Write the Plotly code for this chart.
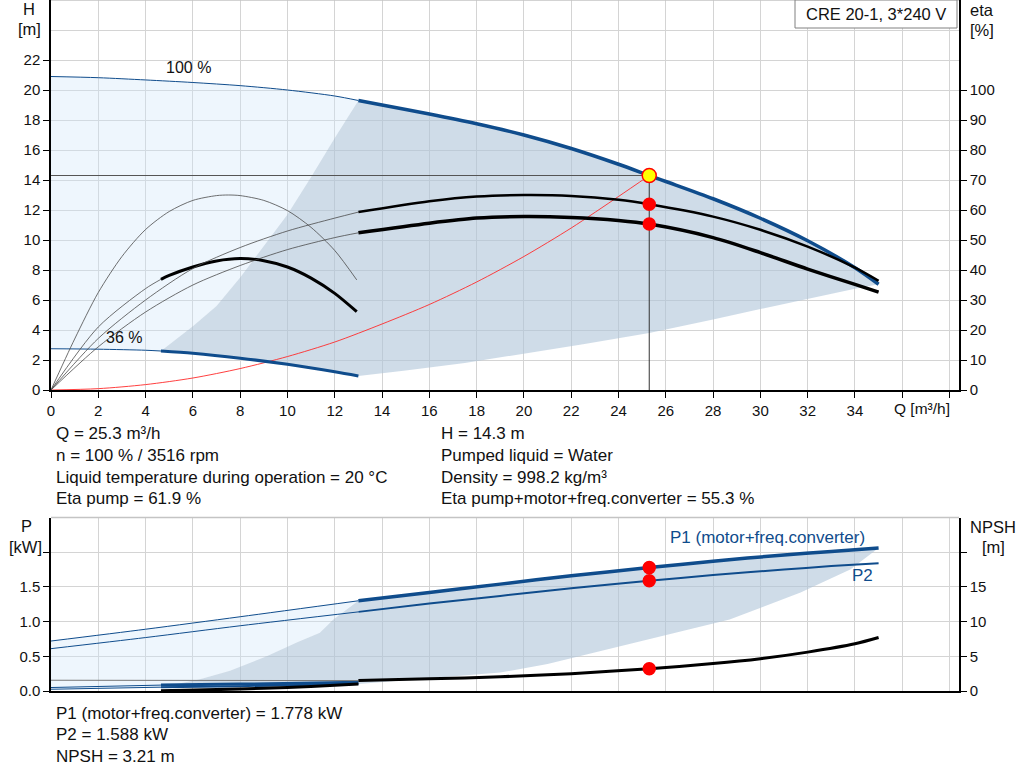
import plotly.graph_objects as go

# ---- pump curve data ----
# head, 100 % speed
q_h100_thin = [0, 2, 4, 6, 8, 10, 12, 13]
h100_thin = [20.9, 20.82, 20.67, 20.5, 20.29, 20.0, 19.6, 19.3]
q_h100 = [13, 14, 16, 18, 20, 22, 24, 25.3, 26, 28, 30, 32, 34, 35]
h100 = [19.3, 19.0, 18.4, 17.75, 17.0, 16.1, 15.05, 14.3, 13.9, 12.75, 11.45, 9.95, 8.15, 7.05]

# head, 36 % speed
q_h36_thin = [0, 2, 4, 4.65]
h36_thin = [2.75, 2.72, 2.65, 2.6]
q_h36 = [4.65, 6, 8, 10, 12, 13]
h36 = [2.6, 2.45, 2.12, 1.71, 1.21, 0.93]

# edges of the operating area
q_area_left = [4.65, 6, 7, 8, 9, 10, 11, 12, 13]
h_area_left = [2.6, 4.25, 5.6, 7.5, 9.6, 11.7, 14.2, 16.8, 19.3]
q_area_low = [13, 15, 17.5, 20, 22.5, 25.3, 28, 30, 32, 34, 35]
h_area_low = [0.93, 1.3, 1.8, 2.4, 3.05, 3.8, 4.7, 5.4, 6.1, 6.75, 7.05]

# system curve
q_sys = [0, 2, 4, 6, 8, 10, 12, 14, 16, 18, 20, 22, 24, 25.3]
h_sys = [0, 0.09, 0.36, 0.8, 1.43, 2.23, 3.2, 4.4, 5.7, 7.2, 8.9, 10.8, 12.9, 14.3]

# efficiencies, 100 % speed
q_eta_thin = [0, 2, 4, 6, 8, 10, 12, 13]
eta_pump_thin = [0, 17.2, 30, 40.5, 47.5, 53, 57.3, 59.3]
eta_tot_thin = [0, 14.4, 26, 35, 41.5, 46.8, 50.8, 52.4]
q_eta = [13, 16, 18, 20, 22, 24, 25.3, 28, 30, 32, 34, 35]
eta_pump = [59.3, 62.9, 64.5, 65, 64.7, 63.4, 61.9, 57.8, 53.4, 47.8, 40.8, 36.4]
eta_tot = [52.4, 55.6, 57.3, 57.8, 57.5, 56.5, 55.3, 50.8, 45.8, 40.3, 35.2, 32.6]

# efficiencies, 36 % speed
q_eta36_pump = [0, 1, 2, 3, 4, 5, 6, 7, 7.5, 8, 9, 10, 11, 12, 12.93]
eta36_pump = [0, 17, 32.5, 44.5, 53.5, 59.5, 63.2, 64.8, 65, 64.8, 63.2, 59.8, 54.2, 46.5, 36.7]
q_eta36_tot_thin = [0, 2, 4, 4.65]
eta36_tot_thin = [0, 21, 33.8, 36.9]
q_eta36_tot = [4.65, 5, 6, 7, 8, 9, 10, 11, 12, 12.93]
eta36_tot = [36.9, 38.2, 41.0, 43.0, 43.8, 43.1, 41.0, 37.3, 32.2, 26.1]

# power, 100 % speed
q_p_thin = [0, 4, 8, 13]
p1_thin = [0.72, 0.89, 1.07, 1.30]
p2_thin = [0.61, 0.77, 0.94, 1.14]
q_p = [13, 16, 19, 22, 25.3, 28, 31, 33, 35]
p1 = [1.30, 1.42, 1.54, 1.66, 1.778, 1.87, 1.96, 2.01, 2.06]
p2 = [1.14, 1.26, 1.37, 1.48, 1.588, 1.67, 1.75, 1.80, 1.84]

# power, 36 % speed
q_p36_thin = [0, 4.65]
p1_36_thin = [0.05, 0.085]
p2_36_thin = [0.025, 0.055]
q_p36 = [4.65, 8, 10.5, 13]
p1_36 = [0.085, 0.10, 0.11, 0.125]
p2_36 = [0.055, 0.07, 0.085, 0.10]

# power area edges
q_parea_left = [4.65, 6.3, 7.57, 9.12, 10.39, 11.37, 11.94, 13]
p_parea_left = [0.055, 0.17, 0.29, 0.50, 0.70, 0.84, 1.03, 1.30]
q_parea_low = [13, 16, 19, 21, 23, 25.3, 28.7, 31.7, 33.8, 35]
p_parea_low = [0.10, 0.18, 0.265, 0.39, 0.55, 0.75, 1.03, 1.42, 1.75, 2.06]

# NPSH
q_npsh_thin = [0, 13]
npsh_thin = [1.55, 1.5]
q_npsh = [13, 16, 19, 22, 25.3, 28, 30, 32, 34, 35]
npsh = [1.5, 1.75, 2.05, 2.5, 3.21, 3.95, 4.65, 5.6, 6.8, 7.7]
q_npsh36 = [4.65, 7, 9, 11, 13]
npsh36 = [0.05, 0.2, 0.4, 0.65, 1.0]

# duty point
q_op, h_op = 25.3, 14.3
eta_pump_op, eta_tot_op = 61.9, 55.3
p1_op, p2_op, npsh_op = 1.778, 1.588, 3.21

q_ticks = list(range(0, 40, 2))
h_ticks = list(range(0, 24, 2))
eta_ticks = list(range(0, 110, 10))
p_ticks = [0, 0.5, 1.0, 1.5, 2.0]
npsh_ticks = [0, 5, 10, 15, 20]

info_left = ["Q = 25.3 m³/h", "n = 100 % / 3516 rpm",
             "Liquid temperature during operation = 20 °C", "Eta pump = 61.9 %"]
info_right = ["H = 14.3 m", "Pumped liquid = Water", "Density = 998.2 kg/m³",
              "Eta pump+motor+freq.converter = 55.3 %"]
info_bottom = ["P1 (motor+freq.converter) = 1.778 kW", "P2 = 1.588 kW", "NPSH = 3.21 m"]

# ---- layout helpers ----
W, H = 1024, 781
ML, MR, MT, MB = 51, 65, 0, 90
PW = W - ML - MR
PH = H - MT - MB


def paper(x, y):
    return (x - ML) / PW, (H - MB - y) / PH


BLUE = "#0f4c8c"
GRID = "#d4d4d4"
LIGHT = "rgba(205,228,250,0.35)"
DARK = "rgba(175,196,216,0.6)"
THIN = "#4a4a4a"
FONT = "Liberation Sans, Arial, sans-serif"

fig = go.Figure()


def line(x, y, color, width, xa="x", ya="y"):
    fig.add_trace(go.Scatter(x=x, y=y, mode="lines", xaxis=xa, yaxis=ya,
                             line=dict(color=color, width=width, shape="spline", smoothing=0.8),
                             hoverinfo="skip", showlegend=False))


def area(x, y, color, xa="x", ya="y"):
    fig.add_trace(go.Scatter(x=x, y=y, mode="lines", fill="toself", fillcolor=color,
                             xaxis=xa, yaxis=ya, line=dict(width=0),
                             hoverinfo="skip", showlegend=False))


def dots(x, y, xa="x", ya="y", color="#ff0000", size=12, edge="#ff0000"):
    fig.add_trace(go.Scatter(x=x, y=y, mode="markers", xaxis=xa, yaxis=ya,
                             marker=dict(color=color, size=size, line=dict(color=edge, width=1.5)),
                             hoverinfo="skip", showlegend=False))


# top chart: areas
area(q_h100_thin + q_area_left[::-1] + q_h36_thin[::-1],
     h100_thin + h_area_left[::-1] + h36_thin[::-1], LIGHT)
area(q_area_left + q_h100 + q_area_low[::-1] + q_h36[::-1],
     h_area_left + h100 + h_area_low[::-1] + h36[::-1], DARK)

# system curve and duty point lines
line(q_sys, h_sys, "#ff2a2a", 0.9)
line([0, q_op], [h_op, h_op], "#555555", 1)
line([q_op, q_op], [h_op, 0], "#333333", 1)

# head curves
line(q_h100_thin, h100_thin, BLUE, 1)
line(q_h100, h100, BLUE, 3.5)
line(q_h36_thin, h36_thin, BLUE, 1)
line(q_h36, h36, BLUE, 3)
dots([q_op], [h_op], color="#ffff00", size=14, edge="#ff0000")

# efficiency curves
line(q_eta36_pump, eta36_pump, THIN, 0.8, ya="y2")
line(q_eta36_tot_thin, eta36_tot_thin, THIN, 0.8, ya="y2")
line(q_eta36_tot, eta36_tot, "#000000", 3, ya="y2")
line(q_eta_thin, eta_pump_thin, THIN, 0.8, ya="y2")
line(q_eta_thin, eta_tot_thin, THIN, 0.8, ya="y2")
line(q_eta, eta_pump, "#000000", 2.5, ya="y2")
line(q_eta, eta_tot, "#000000", 3.5, ya="y2")
dots([q_op, q_op], [eta_pump_op, eta_tot_op], ya="y2")

# bottom chart: areas
area(q_p_thin + q_parea_left[::-1] + q_p36_thin[::-1],
     p1_thin + p_parea_left[::-1] + p2_36_thin[::-1], LIGHT, xa="x2", ya="y3")
area(q_parea_left + q_p + q_parea_low[::-1] + q_p36[::-1],
     p_parea_left + p1 + p_parea_low[::-1] + p2_36[::-1], DARK, xa="x2", ya="y3")

# power curves
line(q_p_thin, p1_thin, BLUE, 1, xa="x2", ya="y3")
line(q_p_thin, p2_thin, BLUE, 1, xa="x2", ya="y3")
line(q_p36_thin, p1_36_thin, BLUE, 1, xa="x2", ya="y3")
line(q_p36_thin, p2_36_thin, BLUE, 1, xa="x2", ya="y3")
line(q_p36, p1_36, BLUE, 3, xa="x2", ya="y3")
line(q_p36, p2_36, BLUE, 2, xa="x2", ya="y3")
line(q_p, p1, BLUE, 3.5, xa="x2", ya="y3")
line(q_p, p2, BLUE, 2, xa="x2", ya="y3")
dots([q_op, q_op], [p1_op, p2_op], xa="x2", ya="y3")

# NPSH curves
line(q_npsh_thin, npsh_thin, "#777777", 1, xa="x2", ya="y4")
line(q_npsh36, npsh36, "#000000", 3, xa="x2", ya="y4")
line(q_npsh, npsh, "#000000", 3, xa="x2", ya="y4")
dots([q_op], [npsh_op], xa="x2", ya="y4")

# ---- axes ----
top_dom = [(PH - 390) / PH, 1]
bot_dom = [0, (PH - 517.5) / PH]
tick_font = dict(family=FONT, size=15, color="#111111")

xcommon = dict(range=[0, 38.4], tickvals=q_ticks, showgrid=True, gridcolor=GRID, gridwidth=1,
               zeroline=False, showline=True, linecolor="#000000", linewidth=1.5, tickfont=tick_font)
ycommon = dict(showline=True, linecolor="#000000", linewidth=1.5, zeroline=False,
               ticks="outside", ticklen=6, tickcolor="#000000", tickfont=tick_font)

fig.update_layout(
    width=W, height=H,
    margin=dict(l=ML, r=MR, t=MT, b=MB, autoexpand=False),
    paper_bgcolor="white", plot_bgcolor="white",
    font=dict(family=FONT, size=15, color="#111111"),
    showlegend=False,
    xaxis=dict(xcommon, domain=[0, 1], anchor="y",
               ticktext=[str(v) if v <= 34 else "" for v in q_ticks],
               ticks="outside", ticklen=6, tickcolor="#000000"),
    yaxis=dict(ycommon, domain=top_dom, range=[0, 26], anchor="x", tickvals=h_ticks,
               showgrid=True, gridcolor=GRID,
               minor=dict(tickvals=[24], showgrid=True, gridcolor=GRID, ticks="")),
    yaxis2=dict(ycommon, overlaying="y", side="right", anchor="x", range=[0, 130],
                tickvals=eta_ticks, showgrid=False),
    xaxis2=dict(xcommon, domain=[0, 1], anchor="y3", showticklabels=False, ticks=""),
    yaxis3=dict(ycommon, domain=bot_dom, range=[0, 2.5], anchor="x2", tickvals=p_ticks,
                ticktext=["0.0", "0.5", "1.0", "1.5", ""], showgrid=True, gridcolor=GRID),
    yaxis4=dict(ycommon, overlaying="y3", side="right", anchor="x2", range=[0, 25],
                tickvals=npsh_ticks, ticktext=["0", "5", "10", "15", ""], showgrid=False),
)

# top borders of both plots
for ya in ["y", "y3"]:
    fig.add_shape(type="line", xref="x domain", yref=ya + " domain", x0=0, x1=1, y0=1, y1=1,
                  line=dict(color="#c4c4c4", width=1.5))

# header box
bx0, by0 = paper(795, 0)
bx1, by1 = paper(957, 28)
fig.add_shape(type="rect", xref="paper", yref="paper", x0=bx0, x1=bx1, y0=by1, y1=by0,
              line=dict(color="#808080", width=1), fillcolor="white", layer="above")


def text(x, y, s, anchor="center", color="#111111", size=17):
    px, py = paper(x, y)
    fig.add_annotation(x=px, y=py, xref="paper", yref="paper", text=s, showarrow=False,
                       xanchor=anchor, yanchor="middle", font=dict(family=FONT, size=size, color=color))


text(876, 14, "CRE 20-1, 3*240 V", size=16.5)
text(29, 9, "H", size=16.5)
text(29, 29, "[m]", size=16.5)
text(982, 10, "eta", size=16.5)
text(982, 30, "[%]", size=16.5)
text(952, 408, "Q [m³/h]", anchor="right", size=15.5)
text(26, 526, "P", size=16.5)
text(25, 547, "[kW]", size=16.5)
text(993, 527, "NPSH", size=16.5)
text(993, 547, "[m]", size=16.5)

for i, s in enumerate(info_left):
    text(54, 434 + i * 21.5, s, anchor="left")
for i, s in enumerate(info_right):
    text(439, 434 + i * 21.5, s, anchor="left")
for i, s in enumerate(info_bottom):
    text(54, 713 + i * 21.5, s, anchor="left")

# curve labels in data coordinates
fig.add_annotation(x=5.8, y=21.5, xref="x", yref="y", text="100 %", showarrow=False,
                   font=dict(family=FONT, size=16, color="#111111"))
fig.add_annotation(x=3.1, y=3.47, xref="x", yref="y", text="36 %", showarrow=False,
                   font=dict(family=FONT, size=16, color="#111111"))
fig.add_annotation(x=30.3, y=2.21, xref="x2", yref="y3", text="P1 (motor+freq.converter)",
                   showarrow=False, font=dict(family=FONT, size=17, color=BLUE))
fig.add_annotation(x=34.3, y=1.66, xref="x2", yref="y3", text="P2",
                   showarrow=False, font=dict(family=FONT, size=17, color=BLUE))

fig.write_html("out.html", config={"displayModeBar": False},
               post_script="document.body.style.margin='0px';")
